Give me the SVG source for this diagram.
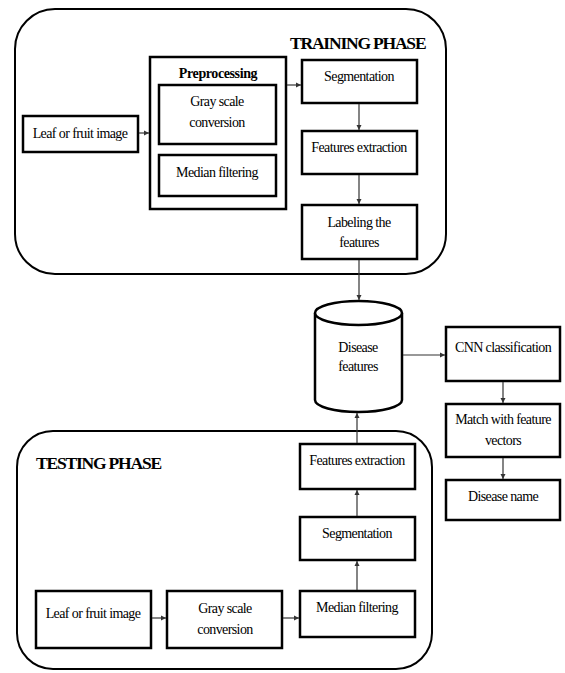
<svg xmlns="http://www.w3.org/2000/svg" width="565" height="673" viewBox="0 0 565 673">
<defs>
<marker id="ah" markerWidth="6" markerHeight="6" refX="5" refY="3" orient="auto" markerUnits="userSpaceOnUse">
<path d="M0,0.5 L5,3 L0,5.5 Z" fill="#333"/>
</marker>
</defs>
<style>
.phase{fill:none;stroke:#000;stroke-width:2}
.box{fill:#fff;stroke:#000;stroke-width:2.5}
.t{font-family:"Liberation Serif","Times New Roman",serif;font-size:14px;fill:#000;text-anchor:middle;letter-spacing:-0.6px}
.h{font-family:"Liberation Serif","Times New Roman",serif;font-size:17.5px;font-weight:bold;fill:#000;letter-spacing:-1.2px}
.b{font-family:"Liberation Serif","Times New Roman",serif;font-size:14px;font-weight:bold;fill:#000;text-anchor:middle;letter-spacing:-0.4px}
.c{fill:none;stroke:#333;stroke-width:1.2;marker-end:url(#ah)}
</style>
<rect width="565" height="673" fill="#fff"/>
<g id="training-phase">
<rect class="phase" x="15" y="9" width="431" height="265" rx="40" ry="40"/>
<text class="h" x="290" y="49">TRAINING PHASE</text>
</g>
<g id="testing-phase">
<rect class="phase" x="17" y="431" width="415" height="238" rx="36" ry="36"/>
<text class="h" x="36" y="469">TESTING PHASE</text>
</g>
<g id="train-leaf">
<rect class="box" x="23" y="116" width="115" height="36"/>
<text class="t" x="80" y="138">Leaf or fruit image</text>
</g>
<g id="preprocessing">
<rect class="box" x="150" y="57" width="136" height="152"/>
<text class="b" x="218" y="78">Preprocessing</text>
</g>
<g id="train-gray">
<rect class="box" x="159" y="85" width="117" height="59"/>
<text class="t" x="217" y="106">Gray scale</text>
<text class="t" x="217" y="127">conversion</text>
</g>
<g id="train-median">
<rect class="box" x="159" y="155" width="117" height="41"/>
<text class="t" x="217" y="177">Median filtering</text>
</g>
<g id="train-seg">
<rect class="box" x="302" y="60" width="115" height="43"/>
<text class="t" x="359" y="81">Segmentation</text>
</g>
<g id="train-fe">
<rect class="box" x="302" y="131" width="115" height="43"/>
<text class="t" x="359" y="152">Features extraction</text>
</g>
<g id="train-label">
<rect class="box" x="302" y="205" width="115" height="54"/>
<text class="t" x="359" y="227">Labeling the</text>
<text class="t" x="359" y="247">features</text>
</g>
<g id="db">
<path d="M315,313 L315,400 A43.5,12 0 0 0 402,400 L402,313" fill="#fff" stroke="#000" stroke-width="2.5"/>
<ellipse cx="358.5" cy="313" rx="43.5" ry="12" fill="#fff" stroke="#000" stroke-width="2.5"/>
<text class="t" x="358" y="352">Disease</text>
<text class="t" x="358" y="371">features</text>
</g>
<g id="cnn">
<rect class="box" x="446" y="327" width="114" height="54"/>
<text class="t" x="503" y="352">CNN classification</text>
</g>
<g id="match">
<rect class="box" x="446" y="404" width="114" height="53"/>
<text class="t" x="503" y="424">Match with feature</text>
<text class="t" x="503" y="445">vectors</text>
</g>
<g id="disease-name">
<rect class="box" x="446" y="480" width="114" height="40"/>
<text class="t" x="503" y="501">Disease name</text>
</g>
<g id="test-fe">
<rect class="box" x="300" y="444" width="115" height="45"/>
<text class="t" x="357" y="465">Features extraction</text>
</g>
<g id="test-seg">
<rect class="box" x="300" y="517" width="115" height="43"/>
<text class="t" x="357" y="538">Segmentation</text>
</g>
<g id="test-median">
<rect class="box" x="300" y="591" width="115" height="46"/>
<text class="t" x="357" y="612">Median filtering</text>
</g>
<g id="test-leaf">
<rect class="box" x="36" y="591" width="115" height="57"/>
<text class="t" x="93" y="618">Leaf or fruit image</text>
</g>
<g id="test-gray">
<rect class="box" x="167" y="591" width="115" height="57"/>
<text class="t" x="225" y="613">Gray scale</text>
<text class="t" x="225" y="634">conversion</text>
</g>
<g id="connectors">
<line class="c" x1="139" y1="133" x2="149" y2="133"/>
<line class="c" x1="287" y1="85" x2="301" y2="85"/>
<line class="c" x1="359" y1="104" x2="359" y2="130"/>
<line class="c" x1="359" y1="175" x2="359" y2="204"/>
<line class="c" x1="359" y1="260" x2="359" y2="300"/>
<line class="c" x1="403" y1="355" x2="445" y2="355"/>
<line class="c" x1="503" y1="382" x2="503" y2="403"/>
<line class="c" x1="503" y1="458" x2="503" y2="479"/>
<line class="c" x1="152" y1="618" x2="166" y2="618"/>
<line class="c" x1="283" y1="618" x2="299" y2="618"/>
<line class="c" x1="357" y1="590" x2="357" y2="561"/>
<line class="c" x1="357" y1="516" x2="357" y2="490"/>
<line class="c" x1="357" y1="443" x2="357" y2="413"/>
</g>
</svg>
